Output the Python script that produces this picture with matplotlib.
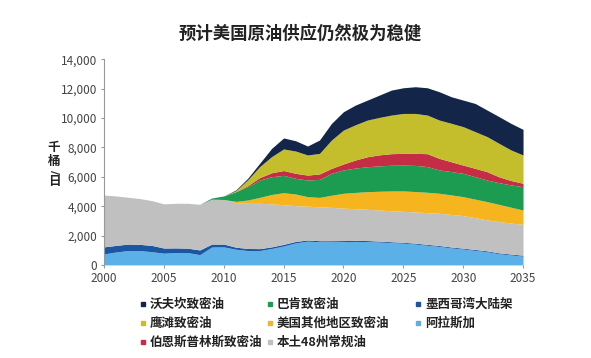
import numpy as np
import matplotlib
matplotlib.use('Agg')
import matplotlib.pyplot as plt
from matplotlib.lines import Line2D

plt.rcParams['font.family'] = ['Noto Sans CJK SC', 'DejaVu Sans']

years = list(range(2000, 2036))

# cumulative tops of each layer (thousand barrels / day), bottom to top
gulf_top = [750, 880, 980, 980, 900, 800, 840, 840, 700, 1220, 1230, 1070, 980, 980, 1120, 1290,
            1500, 1620, 1580, 1580, 1590, 1600, 1590, 1560, 1520, 1480, 1420, 1340, 1260, 1160,
            1080, 990, 900, 760, 680, 600]
alaska_top = [1230, 1330, 1420, 1400, 1330, 1150, 1160, 1140, 1020, 1420, 1420, 1210, 1120, 1110, 1230, 1400,
              1600, 1700, 1650, 1650, 1660, 1670, 1660, 1620, 1580, 1540, 1480, 1400, 1320, 1220,
              1140, 1050, 960, 820, 740, 660]
conv_top = [4760, 4700, 4610, 4520, 4380, 4160, 4200, 4200, 4130, 4480, 4460, 4250, 4200, 4200, 4160, 4100,
            4040, 4000, 3960, 3920, 3870, 3830, 3790, 3740, 3690, 3650, 3610, 3560, 3520, 3440,
            3360, 3220, 3070, 2950, 2850, 2770]
other_top = [4760, 4700, 4610, 4520, 4380, 4160, 4200, 4200, 4130, 4480, 4460, 4330, 4420, 4600, 4800, 4920,
             4830, 4650, 4600, 4750, 4880, 4940, 4990, 5020, 5040, 5040, 5000, 4950, 4880, 4770,
             4650, 4480, 4310, 4120, 3930, 3740]
bakken_top = [4760, 4700, 4610, 4520, 4380, 4160, 4200, 4200, 4130, 4560, 4700, 4990, 5330, 5780, 6010, 6100,
              5900, 5780, 5830, 6240, 6470, 6600, 6690, 6750, 6790, 6800, 6780, 6700, 6470, 6360,
              6240, 6010, 5780, 5600, 5450, 5330]
permian_top = [4760, 4700, 4610, 4520, 4380, 4160, 4200, 4200, 4130, 4560, 4700, 4990, 5400, 5950, 6280, 6430,
               6240, 6120, 6200, 6580, 6880, 7150, 7370, 7500, 7580, 7600, 7600, 7580, 7260, 7030,
               6800, 6580, 6350, 6000, 5750, 5560]
eagle_top = [4760, 4700, 4610, 4520, 4380, 4160, 4200, 4200, 4130, 4560, 4700, 5050, 5800, 6700, 7380, 7900,
             7760, 7490, 7600, 8510, 9190, 9550, 9870, 10050, 10210, 10320, 10320, 10210, 9870, 9650,
             9420, 9080, 8740, 8280, 7830, 7490]
wolf_top = [4760, 4700, 4610, 4520, 4380, 4160, 4200, 4200, 4130, 4560, 4700, 5100, 5900, 6920, 7940, 8650,
            8460, 8100, 8510, 9640, 10440, 10890, 11230, 11570, 11910, 12070, 12140, 12070, 11800, 11460,
            11230, 11000, 10550, 10100, 9640, 9235]

tops = [gulf_top, alaska_top, conv_top, other_top, bakken_top, permian_top, eagle_top, wolf_top]
colors = ['#5cb0e8', '#1b56a3', '#c0c0c0', '#f6b41e', '#1c9c50', '#c52d47', '#c4be2c', '#14254a']

names = ['沃夫坎致密油', '鹰滩致密油', '伯恩斯普林斯致密油',
         '巴肯致密油', '美国其他地区致密油', '本土48州常规油',
         '墨西哥湾大陆架', '阿拉斯加']
name_colors = ['#14254a', '#c4be2c', '#c52d47', '#1c9c50', '#f6b41e', '#c0c0c0', '#1b56a3', '#5cb0e8']

fig = plt.figure(figsize=(5.91, 3.58), dpi=100)
ax = fig.add_axes([0.176, 0.26, 0.709, 0.574])

x = np.array(years)
bottom = np.zeros(len(years))
for top, c in zip(tops, colors):
    top = np.array(top, dtype=float)
    ax.fill_between(x, bottom, top, color=c, lw=0)
    bottom = top

ax.set_xlim(2000, 2035)
ax.set_ylim(0, 14000)
ax.set_xticks(range(2000, 2036, 5))
ax.set_yticks(range(0, 14001, 2000))
ax.set_yticklabels(['{:,}'.format(v) for v in range(0, 14001, 2000)])
for s in ['top', 'right', 'bottom']:
    ax.spines[s].set_visible(False)
ax.spines['left'].set_color('#999999')
ax.spines['left'].set_linewidth(0.8)
ax.tick_params(axis='both', length=2, color='#999999', labelsize=8.5, labelcolor='#444444', pad=3)

fig.text(0.508, 0.905, '预计美国原油供应仍然极为稳健', ha='center', va='center',
         fontsize=12.5, fontweight='bold', color='#222222')

# y label: stacked characters, slash turned
lx = 54 / 591
fig.text(lx, 1 - 148 / 358, '千', ha='center', va='center', fontsize=9, fontweight='bold', color='#222222')
fig.text(lx, 1 - 161 / 358, '桶', ha='center', va='center', fontsize=9, fontweight='bold', color='#222222')
fig.text(lx, 1 - 172 / 358, '/', ha='center', va='center', fontsize=8, fontweight='bold',
         color='#222222', rotation=-90, family='DejaVu Sans')
fig.text(lx, 1 - 182 / 358, '日', ha='center', va='center', fontsize=9, fontweight='bold', color='#222222')

# legend
col_x = [143, 270, 418]
row_y = [304, 323, 342]
for i, (n, c) in enumerate(zip(names, name_colors)):
    col, row = i // 3, i % 3
    mx = col_x[col] / 591
    my = 1 - row_y[row] / 358
    fig.add_artist(Line2D([mx], [my], marker='s', markersize=3.5, color=c, lw=0,
                          transform=fig.transFigure))
    fig.text(mx + 7 / 591, my, n, ha='left', va='center', fontsize=9,
             fontweight='bold', color='#222222')

fig.savefig('out.png', dpi=100)
